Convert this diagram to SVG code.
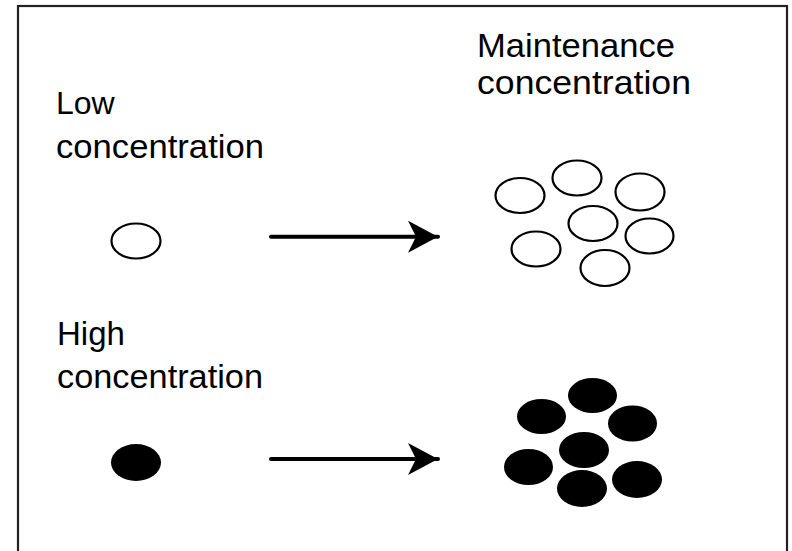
<svg xmlns="http://www.w3.org/2000/svg" width="792" height="551" viewBox="0 0 792 551">
  <style>
    .label { font-family: "Liberation Sans", Arial, sans-serif; fill: #000; }
    .open { fill: #fff; stroke: #000; stroke-width: 2.2; }
    .solid { fill: #000; stroke: none; }
    .arrow { stroke: #000; stroke-width: 4; stroke-linecap: round; fill: none; }
  </style>
  <defs>
    <marker id="barb" markerUnits="userSpaceOnUse" markerWidth="32" markerHeight="34" refX="30" refY="16" orient="auto">
      <path d="M0,0 L30,16 L0,32 L8,16 Z" fill="#000"/>
    </marker>
  </defs>
  <rect width="792" height="551" fill="#fff"/>
  <!-- frame, open at the bottom edge -->
  <rect x="18" y="6" width="769" height="560" fill="none" stroke="#222" stroke-width="2.2"/>

  <g id="label-low">
    <text class="label" x="56" y="114" font-size="32">Low</text>
    <text class="label" x="56" y="158" font-size="33" textLength="208" lengthAdjust="spacingAndGlyphs">concentration</text>
  </g>
  <g id="label-maintenance">
    <text class="label" x="477" y="57" font-size="34" textLength="198" lengthAdjust="spacingAndGlyphs">Maintenance</text>
    <text class="label" x="477" y="94" font-size="34" textLength="214" lengthAdjust="spacingAndGlyphs">concentration</text>
  </g>
  <g id="label-high">
    <text class="label" x="57" y="345" font-size="33">High</text>
    <text class="label" x="57" y="388" font-size="33" textLength="206" lengthAdjust="spacingAndGlyphs">concentration</text>
  </g>

  <g id="single-open">
    <ellipse class="open" cx="136" cy="241" rx="24.5" ry="17.5"/>
  </g>
  <g id="single-solid">
    <ellipse class="solid" cx="136" cy="462.5" rx="25" ry="18.5"/>
  </g>

  <g id="cluster-open">
    <ellipse class="open" cx="520" cy="195.5" rx="24.5" ry="17.5"/>
    <ellipse class="open" cx="577" cy="178" rx="24.5" ry="17.5"/>
    <ellipse class="open" cx="640" cy="192" rx="24.5" ry="18.5"/>
    <ellipse class="open" cx="593" cy="223.5" rx="24.5" ry="17.5"/>
    <ellipse class="open" cx="649.5" cy="236" rx="24" ry="17.5"/>
    <ellipse class="open" cx="536" cy="249" rx="24.5" ry="17.5"/>
    <ellipse class="open" cx="605" cy="268" rx="24.5" ry="18"/>
  </g>
  <g id="cluster-solid">
    <ellipse class="solid" cx="592.5" cy="395.5" rx="24.5" ry="17.5"/>
    <ellipse class="solid" cx="541.5" cy="416.5" rx="24.5" ry="17.5"/>
    <ellipse class="solid" cx="632.5" cy="423.5" rx="24.5" ry="18"/>
    <ellipse class="solid" cx="584" cy="450" rx="25" ry="18"/>
    <ellipse class="solid" cx="528.5" cy="467" rx="24.5" ry="18"/>
    <ellipse class="solid" cx="637" cy="479.5" rx="25" ry="18.5"/>
    <ellipse class="solid" cx="582" cy="488.5" rx="25" ry="18.5"/>
  </g>

  <g id="connectors">
    <line class="arrow" x1="271" y1="236.7" x2="438" y2="236.7" marker-end="url(#barb)"/>
    <line class="arrow" x1="271" y1="459" x2="438" y2="459" marker-end="url(#barb)"/>
  </g>
</svg>
